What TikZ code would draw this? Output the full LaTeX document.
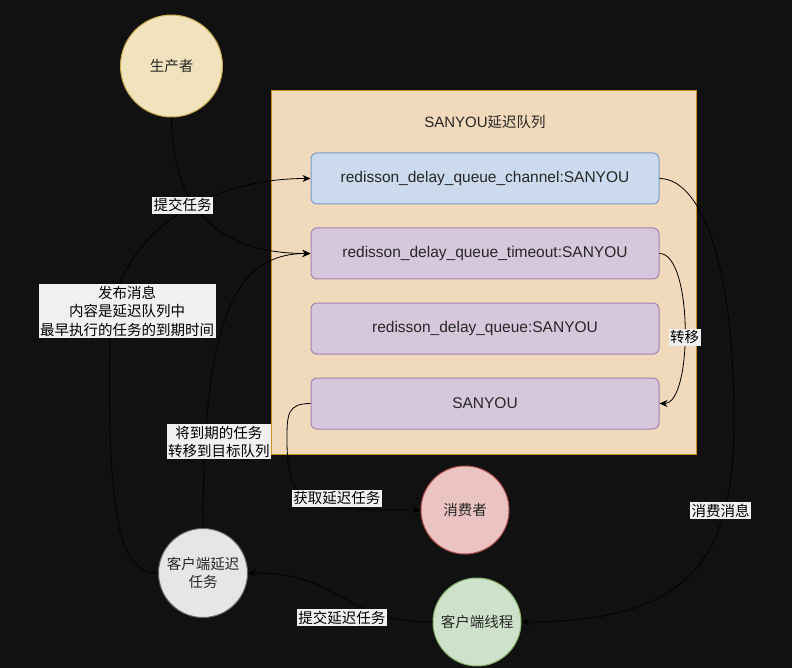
\documentclass[tikz,border=0pt]{standalone}
\usepackage{fontspec}
\setmainfont{Liberation Sans}
\newfontfamily\cjk{Noto Sans CJK SC}
\usetikzlibrary{arrows.meta}

\definecolor{bgdark}{HTML}{111111}
\definecolor{prodfill}{HTML}{F1E3BD}
\definecolor{prodline}{HTML}{C7A84E}
\definecolor{outerfill}{HTML}{F1D9BC}
\definecolor{outerline}{HTML}{C9901C}
\definecolor{chanfill}{HTML}{CBDAED}
\definecolor{chanline}{HTML}{7B9BC9}
\definecolor{purpfill}{HTML}{D7C7DC}
\definecolor{purpline}{HTML}{A383B1}
\definecolor{consfill}{HTML}{EBC3C2}
\definecolor{consline}{HTML}{B35450}
\definecolor{thrfill}{HTML}{CEE1CA}
\definecolor{thrline}{HTML}{85B06A}
\definecolor{delfill}{HTML}{E6E6E6}
\definecolor{delline}{HTML}{666666}
\definecolor{lblfill}{HTML}{F0F0F0}

\tikzset{
    circ/.style={circle, line width=1pt, minimum size=88pt, inner sep=0pt, align=center,
        text=black!85, font=\cjk\fontsize{14.5}{18.5}\selectfont},
    qbox/.style={rectangle, rounded corners=6pt, line width=1pt, minimum width=348pt,
        minimum height=51pt, text=black!85, font=\fontsize{15.5}{18}\selectfont},
    elabel/.style={fill=lblfill, inner sep=1.5pt, align=center, text=black,
        font=\cjk\fontsize{14.5}{18.5}\selectfont},
    conn/.style={draw=black, line width=0.8pt, -{Stealth[length=8pt,width=7pt]}}
}

\begin{document}
\begin{tikzpicture}[x=1pt, y=-1pt]

        % background
        \fill[bgdark] (0,0) rectangle (792,668);
        \useasboundingbox (0,0) rectangle (792,668);

        % delay queue group
        \node[draw=outerline, fill=outerfill, line width=1pt, minimum width=425pt,
            minimum height=363pt] (group) at (483.5,272.5) {};
        \node[text=black!85, font=\fontsize{15}{18}\selectfont] (title) at (485,122)
            {SANYOU{\cjk\fontsize{14.5}{18}\selectfont 延迟队列}};

        \node[qbox, fill=chanfill, draw=chanline] (channel) at (485,178.5)
            {redisson\_delay\_queue\_channel:SANYOU};
        \node[qbox, fill=purpfill, draw=purpline] (timeout) at (485,253.5)
            {redisson\_delay\_queue\_timeout:SANYOU};
        \node[qbox, fill=purpfill, draw=purpline] (delayq) at (485,328.5)
            {redisson\_delay\_queue:SANYOU};
        \node[qbox, fill=purpfill, draw=purpline] (target) at (485,403.5) {SANYOU};

        % circles
        \node[circ, fill=prodfill, draw=prodline, minimum size=102pt] (producer) at (171.5,66) {生产者};
        \node[circ, fill=consfill, draw=consline] (consumer) at (465,510) {消费者};
        \node[circ, fill=thrfill, draw=thrline] (thread) at (477,622) {客户端线程};
        \node[circ, fill=delfill, draw=delline, minimum size=89pt] (delayed) at (203,573) {客户端延迟\\任务};

        % connectors
        \draw[conn] (delayed.west) .. controls (118,573) and (107,515) .. (110,330)
            node[elabel, xshift=17pt, yshift=19pt] {发布消息\\内容是延迟队列中\\最早执行的任务的到期时间}
            .. controls (113,240) and (200,178.5) .. (channel.west);
        \draw[conn] (producer.south) .. controls (172,210) and (220,253.5) ..
            node[elabel, pos=0.4, xshift=-12pt] {提交任务} (timeout.west);
        \draw[conn] (delayed.north) .. controls (203,330) and (230,253.5) ..
            node[elabel, pos=0.15, xshift=14pt, yshift=5pt] {将到期的任务\\转移到目标队列} (timeout.west);
        \draw[conn] (timeout.east) .. controls (693,253.5) and (693,403.5) ..
            node[elabel, pos=0.5, yshift=-9pt] {转移} (target.east);
        \draw[conn] (channel.east) .. controls (700,178.5) and (734,260) .. (734,420)
            .. controls (734,560) and (690,622) .. node[elabel, pos=0.25, xshift=-4pt] {消费消息} (thread.east);
        \draw[conn] (target.west) .. controls (287,403.5) and (287,415) .. (287,440)
            .. controls (287,510) and (310,510) .. node[elabel, pos=0.45, xshift=30pt] {获取延迟任务} (consumer.west);
        \draw[conn] (thread.west) .. controls (340,622) and (345,573) ..
            node[elabel, pos=0.5, yshift=-20pt] {提交延迟任务} (delayed.east);

    \end{tikzpicture}
\end{document}
